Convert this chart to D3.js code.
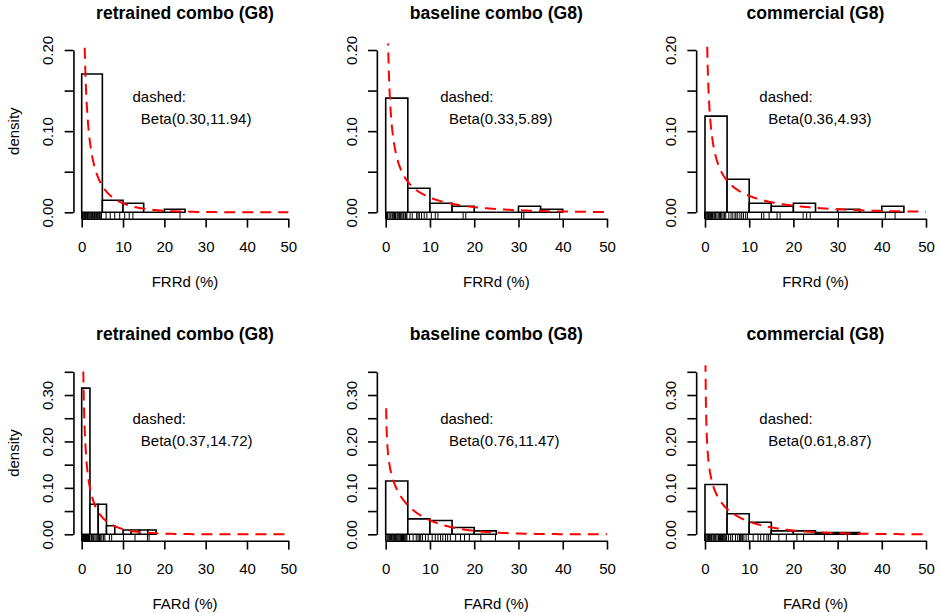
<!DOCTYPE html>
<html>
<head>
<meta charset="utf-8">
<script src="https://cdn.jsdelivr.net/npm/d3@7"></script>
<style>
  body { margin: 0; background: #fff; }
  svg text { font-family: "Liberation Sans", Arial, Helvetica, sans-serif; fill: #000; }
</style>
</head>
<body>
<svg id="chart" width="939" height="613"></svg>
<script>
// ---- data -------------------------------------------------------------
const panelTitles = ["retrained combo (G8)", "baseline combo (G8)", "commercial (G8)",
                     "retrained combo (G8)", "baseline combo (G8)", "commercial (G8)"];
const xLabels = ["FRRd (%)", "FRRd (%)", "FRRd (%)", "FARd (%)", "FARd (%)", "FARd (%)"];
const betaA = [0.30, 0.33, 0.36, 0.37, 0.76, 0.61];
const betaB = [11.94, 5.89, 4.93, 14.72, 11.47, 8.87];

// histogram bin width (%) and density per bin, bins start at 0
const binWidths = [5, 5, 5, 2, 5, 5];
const densities = [
  [0.1704, 0.0148, 0.0111, 0, 0.0037],
  [0.1407, 0.0296, 0.0111, 0.0074, 0, 0, 0.0074, 0.0037],
  [0.1185, 0.0407, 0.0111, 0.0074, 0.0111, 0, 0.0037, 0, 0.0074],
  [0.3148, 0.0648, 0.0648, 0.0185, 0, 0.0093, 0.0093, 0.0093, 0.0093],
  [0.1148, 0.0333, 0.0296, 0.0148, 0.0074],
  [0.1074, 0.0444, 0.0259, 0.0074, 0.0074, 0.0037, 0.0037]
];

// individual observations (%) shown as rug ticks
const rugValues = [
  [0,0,0,0,0,0,0,0,0,0,0,0,0,0,0,0,0,0,0,0,0,0,0,0,
   0.3,0.5,0.7,0.9,1.0,1.2,1.4,1.6,1.8,2.0,2.2,2.4,2.6,2.9,3.1,3.3,3.6,3.8,4.1,4.3,4.6,4.8,
   5.9,6.9,8.0,9.2, 10.4,11.5,12.4, 23.8],
  [0,0,0,0,0,0,0,0,0,0,0,0,0,0,0,0,
   0.4,0.75,1.0,1.2,1.5,1.7,2.0,2.3,2.6,2.85,3.1,3.46,3.7,4.0,4.36,4.6,4.8,0.2,1.9,2.2,3.3,4.5,
   6.0,7.0,7.6,8.1,8.7,5.5,9.3,7.3, 10.3,11.2,11.8, 17.5,18.1, 30.7,31.2, 39.3],
  [0,0,0,0,0,0,0,0,0,0,0,0,
   0.3,0.6,0.9,1.1,1.4,1.7,2.0,2.4,2.7,3.0,3.3,3.8,4.1,4.4,4.7,1.2,1.5,2.2,0.8,3.5,
   5.4,5.9,6.3,6.8,7.0,7.4,7.9,8.3,8.7,9.2,9.6, 12.8,13.3,14.5, 16.3,17.0,
   22.2,23.0,23.8, 30.2, 40.8,43.0],
  [0,0,0,0,0,0,0,0,0,0,0,0,0,0,
   0.2,0.4,0.5,0.7,0.96,1.1,1.3,1.6,1.8,0.3,0.6,0.8,1.0,1.2,1.4,1.5,1.7,1.9,0.1,0.9,
   2.25,2.66,3.2,2.4,2.9,3.5,3.8, 4.27,4.6,4.1,4.9,5.3,5.6,4.4, 6.7,7.25,
   10.1, 12.9, 15.9, 16.3],
  [0,0,0,
   0.3,0.5,0.7,0.9,1.1,1.3,1.5,1.8,2.0,2.2,2.4,2.6,2.8,3.0,3.2,3.4,3.5,3.6,3.7,3.8,3.9,4.0,4.1,4.2,4.4,4.6,4.8,
   5.4,6.2,6.9,7.3,7.6,7.9,8.3,9.0,9.6,
   10.5,11.2,11.8,12.4,12.9,13.5,14.0,14.6, 15.8,16.9,17.8,18.9, 21.5,24.8],
  [0,0,0,0,0,
   0.4,0.8,1.2,1.5,1.8,2.1,2.4,2.7,3.0,3.3,3.5,3.7,3.9,4.1,4.3,4.5,4.7,4.9,0.6,1.0,1.4,2.0,3.1,4.0,
   5.3,5.8,6.2,6.9,7.4,7.8,8.0,8.2,8.5,8.8,9.3,9.8,
   10.9,12.0,12.6,13.3,14.0,14.4,14.8, 16.7,18.4, 20.8,22.3, 27.0, 32.2]
];

const xTicks = [0, 10, 20, 30, 40, 50];
const yTicksByRow = [[0, 0.05, 0.10, 0.15, 0.20],
                     [0, 0.05, 0.10, 0.15, 0.20, 0.25, 0.30, 0.35]];
const yLabelsByRow = [["0.00", "", "0.10", "", "0.20"],
                      ["0.00", "", "0.10", "", "0.20", "", "0.30", ""]];
const yMaxByRow = [0.20, 0.35];

// ---- layout -------------------------------------------------------------
// pixel positions of x = 0 and x = 50, and of y = 0 and y = ymax, per panel
const colX = [[81.7, 288.3], [385.7, 607.0], [705.0, 926.0]];
const rowY = [[212.3, 50.0], [534.3, 371.8]];

const svg = d3.select("#chart");
const FONT = 15, TITLE_FONT = 17.6;
const LW = 1.6;

// log-gamma (Lanczos) for the Beta density
function lgamma(z) {
  const g = 7;
  const c = [0.99999999999980993, 676.5203681218851, -1259.1392167224028,
    771.32342877765313, -176.61503916999185, 12.507343278686905,
    -0.13857109526572012, 9.9843695780195716e-6, 1.5056327351493116e-7];
  if (z < 0.5) return Math.log(Math.PI / Math.sin(Math.PI * z)) - lgamma(1 - z);
  z -= 1;
  let x = c[0];
  for (let i = 1; i < g + 2; i++) x += c[i] / (z + i);
  const t = z + g + 0.5;
  return 0.5 * Math.log(2 * Math.PI) + (z + 0.5) * Math.log(t) - t + Math.log(x);
}
function dbeta(p, a, b) {
  if (p <= 0 || p >= 1) return NaN;
  const lb = lgamma(a) + lgamma(b) - lgamma(a + b);
  return Math.exp((a - 1) * Math.log(p) + (b - 1) * Math.log(1 - p) - lb);
}

panelTitles.forEach((title, i) => {
  const row = Math.floor(i / 3), col = i % 3;
  const yMax = yMaxByRow[row];
  const x = d3.scaleLinear().domain([0, 50]).range(colX[col]);
  const y = d3.scaleLinear().domain([0, yMax]).range(rowY[row]);

  // plot region: 4% extension of the data ranges
  const rx0 = x(-2), rx1 = x(52);
  const ry0 = y(-0.04 * yMax), ry1 = y(yMax * 1.04);
  const cx = (rx0 + rx1) / 2;

  const g = svg.append("g");
  const clipId = "clip" + i;
  svg.append("clipPath").attr("id", clipId)
    .append("rect").attr("x", rx0).attr("y", ry1)
    .attr("width", rx1 - rx0).attr("height", ry0 - ry1);

  // histogram bars (zero-height bins drawn as a flat line)
  const bw = binWidths[i];
  g.append("g").selectAll("path").data(densities[i]).join("path")
    .attr("d", (d, k) => {
      const x0 = x(k * bw), x1 = x((k + 1) * bw);
      return `M${x0},${y(0)}V${y(d)}H${x1}V${y(0)}Z`;
    })
    .attr("fill", "#fff").attr("stroke", "#000").attr("stroke-width", LW);

  // fitted Beta density, scaled to percent
  const grid = d3.range(1, 501).map(k => k / 10);
  const pts = grid.map(v => [v, dbeta(v / 100, betaA[i], betaB[i]) / 100]);
  g.append("path")
    .attr("clip-path", `url(#${clipId})`)
    .attr("d", d3.line().x(d => x(d[0])).y(d => y(d[1]))(pts))
    .attr("fill", "none").attr("stroke", "#ff0000").attr("stroke-width", 2)
    .attr("stroke-dasharray", "11,7");

  // rug
  const rugLen = 0.038 * (ry0 - ry1);
  g.append("g").selectAll("line").data(rugValues[i]).join("line")
    .attr("x1", d => x(d)).attr("x2", d => x(d))
    .attr("y1", ry0).attr("y2", ry0 - rugLen)
    .attr("stroke", "#000").attr("stroke-width", 1);

  // x axis
  const xAxis = g.append("g").attr("transform", `translate(0,${ry0})`)
    .call(d3.axisBottom(x).tickValues(xTicks).tickSize(8.8).tickSizeOuter(0).tickPadding(0));
  xAxis.selectAll("path, line").attr("stroke", "#000").attr("stroke-width", LW);
  xAxis.selectAll("text").attr("y", 27.5).attr("dy", null)
    .attr("dominant-baseline", "central").style("font-size", FONT + "px")
    .style("font-family", '"Liberation Sans", Arial, sans-serif');

  // y axis
  const yTicks = yTicksByRow[row], yLab = yLabelsByRow[row];
  const yAxis = g.append("g").attr("transform", `translate(${rx0},0)`)
    .call(d3.axisLeft(y).tickValues(yTicks).tickSize(8.8).tickSizeOuter(0)
      .tickFormat((d, k) => yLab[k]));
  yAxis.selectAll("path, line").attr("stroke", "#000").attr("stroke-width", LW);
  yAxis.selectAll("text")
    .attr("x", null).attr("dy", null)
    .attr("transform", "translate(-25.8,0) rotate(-90)")
    .attr("text-anchor", "middle").attr("dominant-baseline", "central")
    .style("font-size", FONT + "px")
    .style("font-family", '"Liberation Sans", Arial, sans-serif');

  // title
  g.append("text").attr("x", cx).attr("y", ry1 - 31)
    .attr("text-anchor", "middle").attr("dominant-baseline", "central")
    .style("font-size", TITLE_FONT + "px").style("font-weight", "bold")
    .text(title);

  // x label
  g.append("text").attr("x", cx).attr("y", ry0 + 62.5)
    .attr("text-anchor", "middle").attr("dominant-baseline", "central")
    .style("font-size", FONT + "px").text(xLabels[i]);

  // y label on the first column only
  if (col === 0) {
    g.append("text")
      .attr("transform", `translate(13.8,${(ry0 + ry1) / 2}) rotate(-90)`)
      .attr("text-anchor", "middle").attr("dominant-baseline", "central")
      .style("font-size", FONT + "px").text("density");
  }

  // annotation of the fitted distribution
  g.append("text").attr("x", x(12.3)).attr("y", y(0.7125 * yMax))
    .attr("dominant-baseline", "central").style("font-size", FONT + "px")
    .text("dashed:");
  g.append("text").attr("x", x(14.3)).attr("y", y(0.579 * yMax))
    .attr("dominant-baseline", "central").style("font-size", FONT + "px")
    .text(`Beta(${betaA[i].toFixed(2)},${betaB[i].toFixed(2)})`);
});
</script>
</body>
</html>
